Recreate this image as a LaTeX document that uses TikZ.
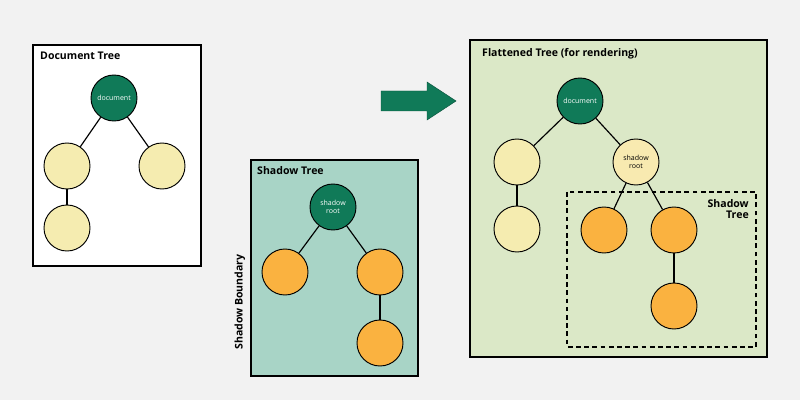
\documentclass[tikz,border=0pt]{standalone}
\usepackage{fontspec}
\setmainfont{Open Sans}
\definecolor{bggrey}{RGB}{242,242,242}
\definecolor{docgreen}{RGB}{16,122,88}
\definecolor{paleyel}{RGB}{245,236,176}
\definecolor{shadyel}{RGB}{248,234,176}
\definecolor{orng}{RGB}{250,178,64}
\definecolor{shadowbg}{RGB}{168,212,198}
\definecolor{flatbg}{RGB}{219,232,199}
\tikzset{
  tnode/.style={circle, draw=black, line width=0.8pt, minimum size=1.38cm, inner sep=0pt, font=\fontsize{6}{7}\selectfont, align=center},
  root/.style={tnode, fill=docgreen, text=white},
  plain/.style={tnode, fill=paleyel},
  shad/.style={tnode, fill=orng},
  edge/.style={line width=1pt},
  panel/.style={draw=black, line width=1.2pt},
  title/.style={anchor=north west, font=\bfseries\fontsize{9}{10}\selectfont, inner sep=0pt}
}
\begin{document}
\begin{tikzpicture}[x=0.03cm, y=-0.03cm]
    \fill [bggrey] (0,0) rectangle (800,400);
    % document tree
    \draw [panel, fill=white] (33,45) rectangle (201,266);
    \node [title] (dtitle) at (40,52) {Document Tree};
    \node [root] (d0) at (114,98) {document};
    \node [plain] (d1) at (67,166) {};
    \node [plain] (d2) at (162,166) {};
    \node [plain] (d3) at (67,228) {};
    \draw [edge] (d0) -- (d1);
    \draw [edge] (d0) -- (d2);
    \draw [edge] (d1) -- (d3);
    % shadow tree
    \draw [panel, fill=shadowbg] (251,160) rectangle (418,376);
    \node [title] (stitle) at (257,166) {Shadow Tree};
    \node [rotate=90, font=\bfseries\fontsize{9}{10}\selectfont] (sbound) at (240,302) {Shadow Boundary};
    \node [root] (s0) at (333,207) {shadow\\root};
    \node [shad] (s1) at (285,272) {};
    \node [shad] (s2) at (380,272) {};
    \node [shad] (s3) at (380,343) {};
    \draw [edge] (s0) -- (s1);
    \draw [edge] (s0) -- (s2);
    \draw [edge] (s2) -- (s3);
    % arrow
    \fill [docgreen, draw=docgreen!70!black] (381,91) -- (427,91) -- (427,82) -- (456,101)
        -- (427,120) -- (427,111) -- (381,111) -- cycle;
    % flattened tree
    \draw [panel, fill=flatbg] (470,40) rectangle (767,357);
    \node [title] (ftitle) at (482,48) {Flattened Tree (for rendering)};
    \draw [line width=1.1pt, dash pattern=on 4pt off 3pt] (567,192) rectangle (756,347);
    \node [anchor=north east, align=right, font=\bfseries\fontsize{9}{10}\selectfont, inner sep=0pt] (ftag) at (749,199) {Shadow\\Tree};
    \node [root] (f0) at (580,101) {document};
    \node [plain] (f1) at (517,162) {};
    \node [tnode, fill=shadyel] (f2) at (636,162) {shadow\\root};
    \node [plain] (f3) at (517,229) {};
    \node [shad] (f4) at (604,230) {};
    \node [shad] (f5) at (674,230) {};
    \node [shad] (f6) at (674,306) {};
    \draw [edge] (f0) -- (f1);
    \draw [edge] (f0) -- (f2);
    \draw [edge] (f1) -- (f3);
    \draw [edge] (f2) -- (f4);
    \draw [edge] (f2) -- (f5);
    \draw [edge] (f5) -- (f6);
\end{tikzpicture}
\end{document}
